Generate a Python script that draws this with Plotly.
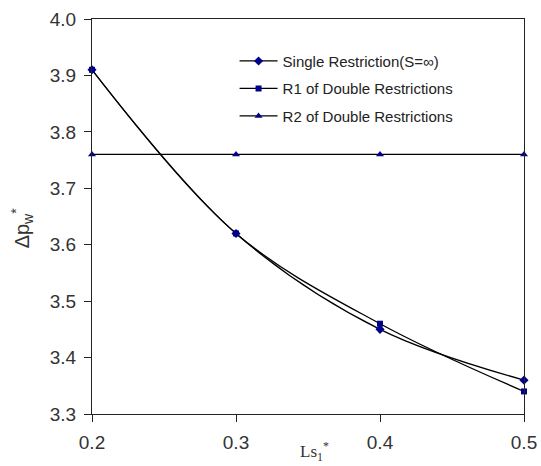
import plotly.graph_objects as go

x_vals = [0.2, 0.3, 0.4, 0.5]
single = [3.91, 3.62, 3.45, 3.36]
r1 = [3.91, 3.62, 3.46, 3.34]
r2 = [3.76, 3.76, 3.76, 3.76]
names = ["Single Restriction(S=\u221e)", "R1 of Double Restrictions", "R2 of Double Restrictions"]
x_ticks = [0.2, 0.3, 0.4, 0.5]
y_ticks = [3.3, 3.4, 3.5, 3.6, 3.7, 3.8, 3.9, 4.0]

marker_color = "#00008B"
fig = go.Figure()
series = [(single, "diamond", 7), (r1, "square", 6), (r2, "triangle-up", 7)]
for i, (ys, sym, sz) in enumerate(series):
    fig.add_trace(go.Scatter(
        x=x_vals, y=ys, mode="lines+markers", name=names[i],
        line=dict(color="black", width=1.3, shape="spline" if i < 2 else "linear"),
        marker=dict(symbol=sym, size=sz, color=marker_color),
        legendgroup=f"g{i}", cliponaxis=False,
    ))

axis_common = dict(showgrid=False, zeroline=False, showline=True, linecolor="#222", linewidth=1.3,
                   mirror=True, ticks="outside", ticklen=7, tickcolor="#222",
                   tickfont=dict(size=19, color="#333333"), automargin=False)

fig.update_layout(
    width=541, height=466,
    margin=dict(l=92, r=17, t=19, b=52),
    plot_bgcolor="white", paper_bgcolor="white",
    font=dict(family="Arial, Liberation Sans", color="#333333"),
    showlegend=True,
    legend=dict(x=0.33, y=0.935, xanchor="left", yanchor="top",
                bgcolor="rgba(0,0,0,0)", font=dict(size=15, color="#222222"),
                traceorder="grouped", tracegroupgap=5, itemwidth=38),
    xaxis=dict(range=[0.2, 0.5], tickvals=x_ticks, ticktext=[f"{v:.1f}" for v in x_ticks],
               ticklabelstandoff=4, **axis_common),
    yaxis=dict(range=[3.3, 4.0], tickvals=y_ticks, ticktext=[f"{v:.1f}" for v in y_ticks],
               ticklabelstandoff=4, **axis_common),
    annotations=[
        dict(text="Ls<sub>1</sub><sup>*</sup>", xref="paper", yref="paper", x=0.515, y=-0.095,
             xanchor="center", yanchor="middle", showarrow=False,
             font=dict(family="Times New Roman, Liberation Serif", size=17, color="#333333")),
        dict(text="\u0394p<sub>w</sub><sup>*</sup>", xref="paper", yref="paper", x=-0.162, y=0.47,
             xanchor="center", yanchor="middle", showarrow=False, textangle=-90,
             font=dict(size=20, color="#333333")),
    ],
)
fig.write_html("out.html")
